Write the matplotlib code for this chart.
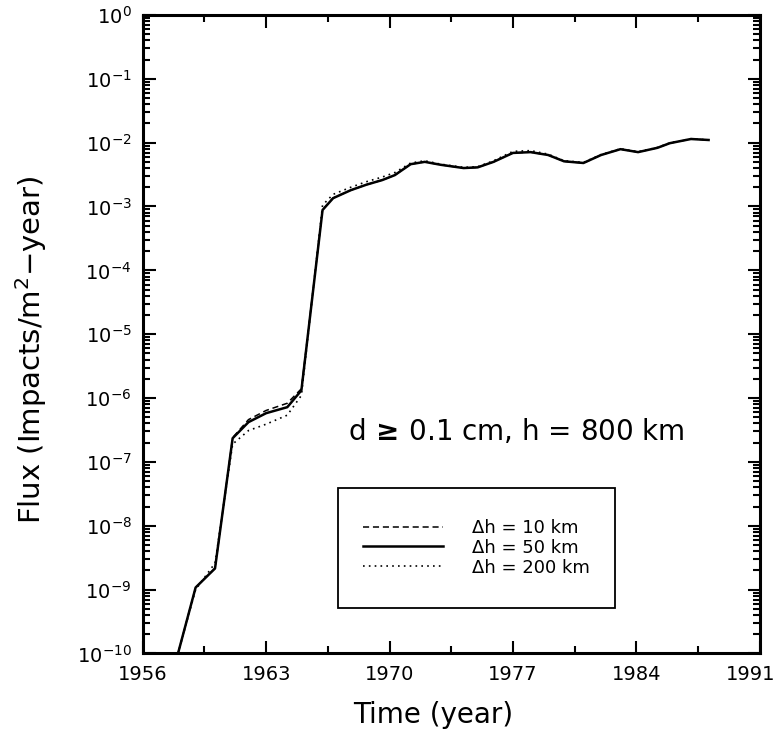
import numpy as np
import matplotlib.pyplot as plt
import matplotlib.transforms as mtrans
from matplotlib.patches import Rectangle
from matplotlib.ticker import LogLocator, FixedLocator, NullFormatter

# time axis (years) shared by the three curves
years = [1958.0, 1959.0, 1960.1, 1961.1, 1962.0, 1963.0, 1964.2, 1965.0,
         1966.2, 1966.8, 1967.8, 1968.7, 1969.6, 1970.3, 1971.2, 1972.0,
         1972.9, 1974.2, 1975.0, 1975.9, 1977.0, 1978.0, 1979.0, 1979.9,
         1981.0, 1982.0, 1983.1, 1984.1, 1985.2, 1985.9, 1987.1, 1988.1]

flux_10km = [1.0e-10, 1.08e-9, 2.15e-9, 2.4e-7, 4.6e-7, 6.4e-7, 8.3e-7, 1.4e-6,
             8.9e-4, 1.36e-3, 1.8e-3, 2.2e-3, 2.6e-3, 3.1e-3, 4.6e-3, 5.0e-3,
             4.5e-3, 4.0e-3, 4.1e-3, 5.0e-3, 6.9e-3, 7.1e-3, 6.4e-3, 5.1e-3,
             4.8e-3, 6.4e-3, 7.9e-3, 7.1e-3, 8.3e-3, 9.8e-3, 1.14e-2, 1.1e-2]

flux_50km = [1.0e-10, 1.08e-9, 2.15e-9, 2.35e-7, 4.2e-7, 5.8e-7, 7.2e-7, 1.32e-6,
             8.8e-4, 1.35e-3, 1.8e-3, 2.2e-3, 2.6e-3, 3.1e-3, 4.6e-3, 5.0e-3,
             4.5e-3, 4.0e-3, 4.1e-3, 5.0e-3, 6.9e-3, 7.1e-3, 6.4e-3, 5.1e-3,
             4.8e-3, 6.4e-3, 7.9e-3, 7.1e-3, 8.3e-3, 9.8e-3, 1.14e-2, 1.1e-2]

flux_200km = [1.0e-10, 1.0e-9, 2.6e-9, 1.9e-7, 3.1e-7, 3.9e-7, 5.4e-7, 1.1e-6,
              1.05e-3, 1.55e-3, 2.0e-3, 2.45e-3, 2.9e-3, 3.4e-3, 4.8e-3, 5.2e-3,
              4.6e-3, 4.1e-3, 4.2e-3, 5.2e-3, 7.3e-3, 7.5e-3, 6.6e-3, 5.2e-3,
              4.9e-3, 6.5e-3, 8.0e-3, 7.2e-3, 8.4e-3, 9.9e-3, 1.15e-2, 1.1e-2]

labels = ["Δh = 10 km", "Δh = 50 km", "Δh = 200 km"]
year_ticks = [1956, 1963, 1970, 1977, 1984, 1991]


def main():
    fig = plt.figure(figsize=(7.8, 7.46), dpi=100)
    ax = fig.add_axes([0.183, 0.124, 0.791, 0.856])

    l1, = ax.plot(years, flux_10km, color="black", lw=1.1, ls=(0, (4, 2.5)))
    l2, = ax.plot(years, flux_50km, color="black", lw=1.8, ls="-")
    l3, = ax.plot(years, flux_200km, color="black", lw=1.2, ls=(0, (1, 2.5)))

    ax.set_yscale("log")
    ax.set_xlim(1956, 1991)
    ax.set_ylim(1e-10, 1e0)

    ax.xaxis.set_major_locator(FixedLocator(year_ticks))
    ax.xaxis.set_minor_locator(FixedLocator(np.arange(1959.5, 1991, 7)))
    ax.yaxis.set_major_locator(LogLocator(base=10, numticks=20))
    ax.yaxis.set_minor_locator(LogLocator(base=10, subs=np.arange(2, 10), numticks=20))
    ax.yaxis.set_minor_formatter(NullFormatter())

    ax.tick_params(which="both", direction="in", top=True, right=True,
                   width=1.5, labelsize=14, color="black")
    ax.tick_params(which="major", length=9, pad=8)
    ax.tick_params(which="minor", length=5)
    for sp in ax.spines.values():
        sp.set_linewidth(2.2)

    # pull the last year label inside the figure like the original
    fig.canvas.draw()
    last = ax.get_xticklabels()[-1]
    last.set_transform(last.get_transform() +
                       mtrans.ScaledTranslation(-9 / 100, 0, fig.dpi_scale_trans))

    ax.set_xlabel("Time (year)", fontsize=20)
    ax.xaxis.set_label_coords(0.47, -0.074)
    ax.set_ylabel("Flux (Impacts/m$^2$\u2212year)", fontsize=21)
    ax.yaxis.set_label_coords(-0.152, 0.475)

    ax.text(0.605, 0.347, "d$\\,\\mathbf{\\geq}\\,$0.1 cm, h = 800 km",
            transform=ax.transAxes, ha="center", va="center", fontsize=20)

    # legend box
    ax.add_patch(Rectangle((0.316, 0.072), 0.449, 0.187, transform=ax.transAxes,
                           fill=False, lw=1.3, edgecolor="black"))
    ax.legend([l1, l2, l3], labels, loc="center",
              bbox_to_anchor=(0.316, 0.072, 0.449, 0.187), frameon=False,
              fontsize=13, handlelength=4.45, handletextpad=1.6,
              labelspacing=0.1)

    fig.savefig("out.png", dpi=100)


if __name__ == "__main__":
    main()
